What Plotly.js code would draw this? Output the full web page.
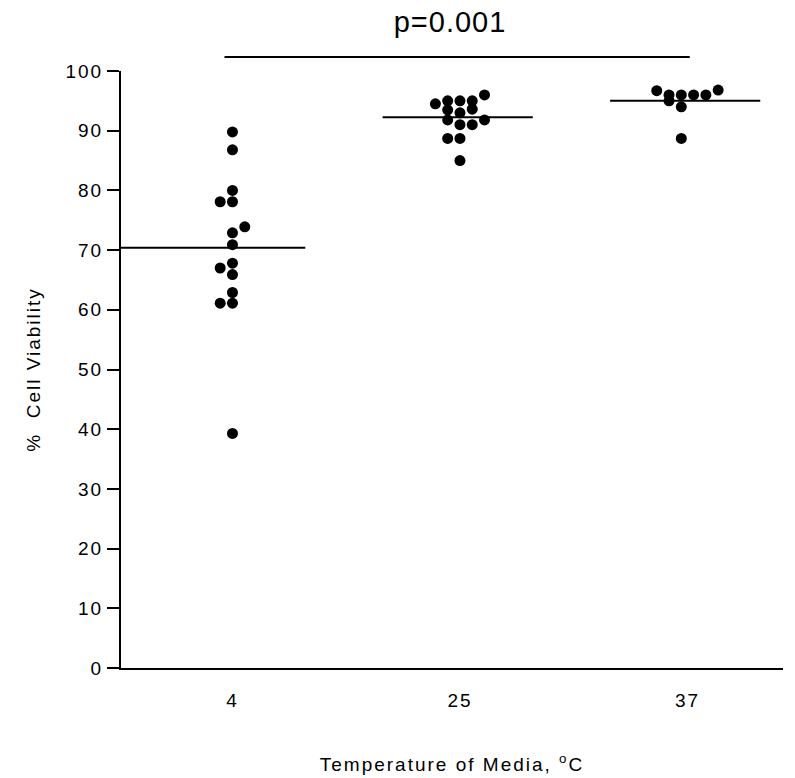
<!DOCTYPE html>
<html>
<head>
<meta charset="utf-8">
<script src="https://cdn.plot.ly/plotly-3.0.1.min.js"></script>
<style>
  body { margin: 0; background: #fff; }
  #chart { width: 795px; height: 778px; }
  .xtick text, .ytick text { letter-spacing: 2px; }
  .xtitle, .ytitle { letter-spacing: 2px; }
  .gtitle { letter-spacing: 1px; }
</style>
</head>
<body>
<div id="chart"></div>
<script>
// ---- data ----
const categories = ['4', '25', '37'];

const viability4  = [89.8, 86.8, 80.0, 78.1, 78.1, 73.9, 72.9, 70.9, 67.8, 67.0, 65.9, 62.9, 61.1, 61.1, 39.3];
const column4     = [0, 0, 0, -1, 0, 1, 0, 0, 0, -1, 0, 0, -1, 0, 0];

const viability25 = [94.5, 95.0, 95.0, 95.0, 96.0, 93.5, 93.0, 93.6, 91.8, 91.0, 91.0, 91.8, 88.7, 88.7, 85.0];
const column25    = [-2, -1, 0, 1, 2, -1, 0, 1, -1, 0, 1, 2, -1, 0, 0];

const viability37 = [96.7, 96.8, 96.0, 96.0, 96.0, 96.0, 95.0, 94.0, 88.7];
const column37    = [-2.5, 2.5, -1.5, -0.5, 0.5, 1.5, -1.5, -0.5, -0.5];

const pLabel = 'p=0.001';

// ---- build ----
const groups = [
  { y: viability4,  col: column4 },
  { y: viability25, col: column25 },
  { y: viability37, col: column37 }
];
const slot = 0.054;        // horizontal spacing of swarm columns (category units)
const xMin = -0.49, xMax = 2.42;
const halfLeft = 0.34, halfRight = 0.32;

const traces = [];
groups.forEach((g, i) => {
  traces.push({
    type: 'scatter', mode: 'markers',
    x: g.col.map(c => i + c * slot),
    y: g.y,
    marker: { color: '#000', size: 11 },
    cliponaxis: false,
    hoverinfo: 'y', showlegend: false
  });
  const mean = g.y.reduce((a, b) => a + b, 0) / g.y.length;
  const left = i === 0 ? xMin : i - halfLeft;
  traces.push({
    type: 'scatter', mode: 'lines',
    x: [left, i + halfRight],
    y: [mean, mean],
    line: { color: '#000', width: 2 },
    hoverinfo: 'skip', showlegend: false
  });
});

const font = 'Arial, "Liberation Sans", sans-serif';

const layout = {
  width: 795, height: 778,
  margin: { l: 121, r: 12, t: 71, b: 110 },
  paper_bgcolor: '#fff', plot_bgcolor: '#fff',
  font: { family: font, color: '#000', size: 19 },
  title: {
    text: pLabel,
    font: { family: font, size: 29, color: '#000' },
    xref: 'paper', x: 0.497, xanchor: 'center',
    yref: 'container', y: 0.972, yanchor: 'middle'
  },
  xaxis: {
    range: [xMin, xMax],
    tickvals: [0, 1, 2], ticktext: categories,
    ticks: '', showline: true, linecolor: '#000', linewidth: 2,
    showgrid: false, zeroline: false,
    tickfont: { family: font, size: 19, color: '#000' },
    ticklabelstandoff: 14,
    title: { text: 'Temperature of Media, <sup>o</sup>C', font: { family: font, size: 19, color: '#000' }, standoff: 48 },
    fixedrange: true
  },
  yaxis: {
    range: [0, 100], dtick: 10, tick0: 0,
    ticks: 'outside', ticklen: 12, tickwidth: 2, tickcolor: '#000',
    showline: true, linecolor: '#000', linewidth: 2,
    showgrid: false, zeroline: false,
    tickfont: { family: font, size: 19, color: '#000' },
    title: { text: '%\u00a0 Cell Viability', font: { family: font, size: 19, color: '#000' }, standoff: 20 },
    fixedrange: true
  },
  shapes: [{
    type: 'line', xref: 'x', yref: 'paper',
    x0: -0.035, x1: 2.01, y0: 1.0235, y1: 1.0235,
    line: { color: '#000', width: 2 }
  }]
};

Plotly.newPlot('chart', traces, layout, { displayModeBar: false, staticPlot: true });
</script>
</body>
</html>
